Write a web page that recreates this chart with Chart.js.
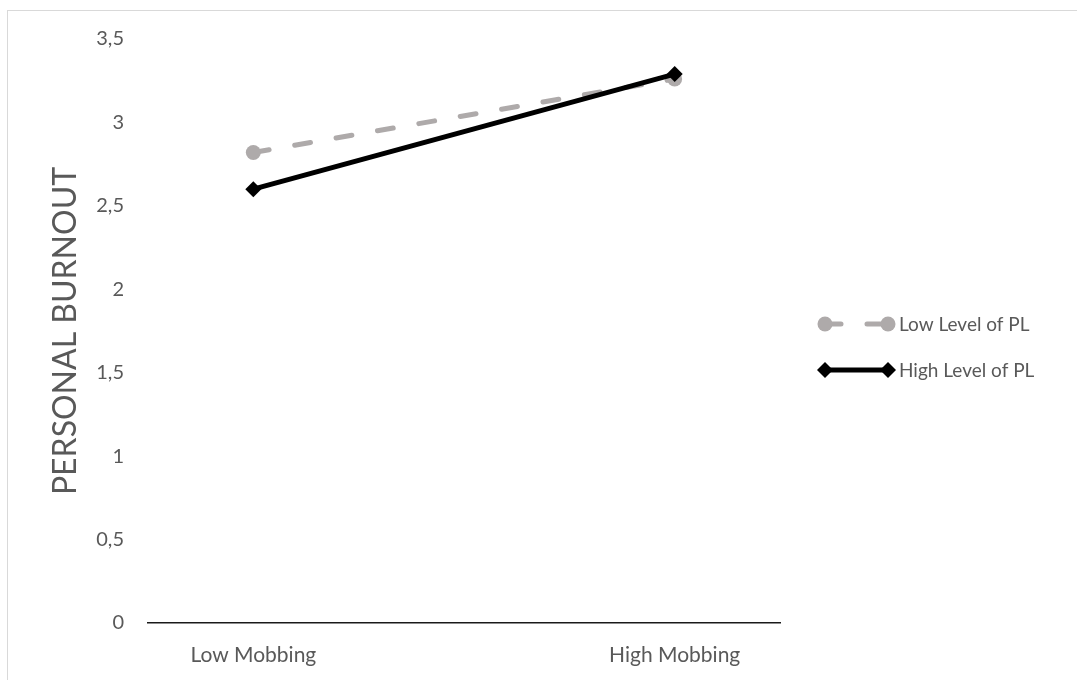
<!DOCTYPE html>
<html lang="en">
<head>
  <meta charset="UTF-8">
  <title>Personal Burnout</title>
  <style>
    html, body { margin: 0; padding: 0; background: #fff; overflow: hidden; }
    #wrap { position: relative; width: 1077px; height: 680px; }
    #frame { position: absolute; left: 7px; top: 10px; width: 1100px; height: 700px; border: 1px solid #d9d9d9; }
    canvas { position: absolute; left: 0; top: 0; }
  </style>
</head>
<body>
  <div id="wrap">
    <div id="frame"></div>
    <canvas id="chart" width="1077" height="680"></canvas>
  </div>

  <script src="https://cdn.jsdelivr.net/npm/chart.js"></script>
  <script>
    const categories = ['Low Mobbing', 'High Mobbing'];
    const lowPL = [2.82, 3.26];
    const highPL = [2.60, 3.29];
    const seriesNames = ['Low Level of PL', 'High Level of PL'];
    const yTicks = [0, 0.5, 1, 1.5, 2, 2.5, 3, 3.5];

    const fontFam = 'Lato, "Open Sans", sans-serif';
    const txt = '#595959';
    const grey = '#AEAAAA';

    function pts(arr) {
      return arr.map((v, i) => ({ x: i, y: v }));
    }

    // Excel-style legend: line sample with a marker at each end
    const legendPlugin = {
      id: 'sideLegend',
      afterDraw(chart) {
        const ctx = chart.ctx;
        const rows = [324, 370];
        chart.data.datasets.forEach((ds, i) => {
          const y = rows[i];
          const x1 = 825, x2 = 888;
          ctx.save();
          ctx.strokeStyle = ds.borderColor;
          ctx.lineWidth = ds.borderWidth;
          ctx.lineCap = ds.borderCapStyle || 'butt';
          ctx.setLineDash(ds.borderDash || []);
          ctx.beginPath();
          ctx.moveTo(x1, y);
          ctx.lineTo(x2, y);
          ctx.stroke();
          ctx.setLineDash([]);
          ctx.fillStyle = ds.pointBackgroundColor;
          [x1, x2].forEach(x => {
            ctx.beginPath();
            if (ds.pointStyle === 'rectRot') {
              const r = ds.pointRadius;
              ctx.moveTo(x - r, y); ctx.lineTo(x, y - r);
              ctx.lineTo(x + r, y); ctx.lineTo(x, y + r);
              ctx.closePath();
            } else {
              ctx.arc(x, y, ds.pointRadius, 0, Math.PI * 2);
            }
            ctx.fill();
          });
          ctx.fillStyle = txt;
          ctx.font = '19px ' + fontFam;
          ctx.textBaseline = 'middle';
          ctx.textAlign = 'left';
          ctx.fillText(ds.label, 899, y + 1);
          ctx.restore();
        });
      }
    };

    new Chart(document.getElementById('chart'), {
      type: 'line',
      data: {
        datasets: [
          {
            label: seriesNames[0],
            data: pts(lowPL),
            borderColor: grey,
            borderWidth: 5,
            borderDash: [16, 26],
            borderCapStyle: 'round',
            pointStyle: 'circle',
            pointRadius: 7.5,
            pointBackgroundColor: grey,
            pointBorderWidth: 0,
            order: 2
          },
          {
            label: seriesNames[1],
            data: pts(highPL),
            borderColor: '#000000',
            borderWidth: 5,
            pointStyle: 'rectRot',
            pointRadius: 8,
            pointBackgroundColor: '#000000',
            pointBorderWidth: 0,
            order: 1
          }
        ]
      },
      options: {
        responsive: false,
        animation: false,
        events: [],
        layout: { padding: { left: 46, right: 297, top: 39, bottom: 0 } },
        plugins: { legend: { display: false }, tooltip: { enabled: false } },
        scales: {
          x: {
            type: 'linear',
            min: -0.25,
            max: 1.25,
            grid: { display: false, drawTicks: false },
            border: { display: true, color: '#1a1a1a', width: 1.5 },
            afterBuildTicks(scale) { scale.ticks = categories.map((c, i) => ({ value: i })); },
            afterFit(scale) { scale.height = 57; },
            ticks: {
              padding: 20,
              color: txt,
              font: { family: fontFam, size: 21 },
              callback: v => categories[v]
            }
          },
          y: {
            min: 0,
            max: 3.5,
            grid: { display: false, drawTicks: false },
            border: { display: false },
            afterBuildTicks(scale) { scale.ticks = yTicks.map(v => ({ value: v })); },
            afterFit(scale) { scale.width = 102; },
            ticks: {
              padding: 24,
              color: txt,
              font: { family: fontFam, size: 20 },
              callback: v => String(v).replace('.', ',')
            },
            title: {
              display: true,
              text: 'PERSONAL BURNOUT',
              color: txt,
              padding: 0,
              font: { family: fontFam, size: 32 }
            }
          }
        }
      },
      plugins: [legendPlugin]
    });
  </script>
</body>
</html>
